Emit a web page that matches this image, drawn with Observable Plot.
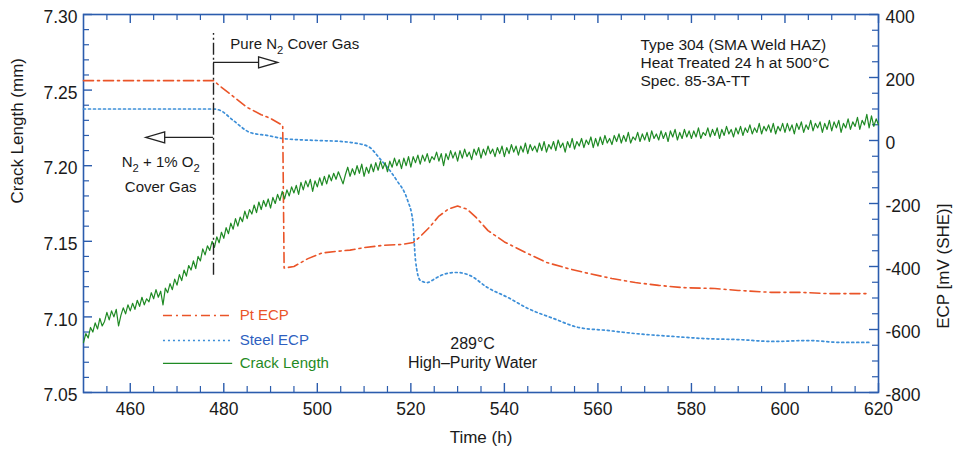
<!DOCTYPE html>
<html>
<head>
<meta charset="utf-8">
<script src="https://cdn.jsdelivr.net/npm/d3@7"></script>
<script src="https://cdn.jsdelivr.net/npm/@observablehq/plot@0.6"></script>
<style>
  html, body { margin: 0; padding: 0; background: #fff; }
  #chart { width: 953px; height: 454px; }
</style>
</head>
<body>
<div id="chart"></div>
<script>
// ---------- data ----------
const crackStart = 450; // samples every 0.5 h from 450 h to 620 h
const crackStep = 0.5;
const crackLength = [
  7.083, 7.089, 7.086, 7.093, 7.090, 7.096, 7.092, 7.099, 7.094, 7.097,
  7.103, 7.098, 7.104, 7.100, 7.105, 7.094, 7.101, 7.106, 7.102, 7.108,
  7.104, 7.109, 7.105, 7.111, 7.107, 7.113, 7.108, 7.112, 7.110, 7.116,
  7.112, 7.118, 7.113, 7.117, 7.108, 7.119, 7.116, 7.122, 7.118, 7.125,
  7.121, 7.128, 7.124, 7.131, 7.127, 7.134, 7.131, 7.137, 7.132, 7.140,
  7.137, 7.145, 7.141, 7.147, 7.144, 7.150, 7.146, 7.153, 7.149, 7.156,
  7.152, 7.159, 7.155, 7.162, 7.158, 7.165, 7.160, 7.166, 7.163, 7.170,
  7.165, 7.171, 7.168, 7.174, 7.169, 7.176, 7.171, 7.177, 7.173, 7.178,
  7.172, 7.179, 7.175, 7.181, 7.177, 7.183, 7.178, 7.184, 7.180, 7.186,
  7.182, 7.187, 7.181, 7.189, 7.184, 7.190, 7.186, 7.191, 7.183, 7.190,
  7.186, 7.192, 7.187, 7.193, 7.188, 7.194, 7.190, 7.195, 7.191, 7.196,
  7.192, 7.188, 7.194, 7.199, 7.193, 7.198, 7.194, 7.200, 7.195, 7.201,
  7.193, 7.199, 7.195, 7.201, 7.196, 7.202, 7.197, 7.203, 7.198, 7.202,
  7.196, 7.203, 7.199, 7.205, 7.200, 7.204, 7.198, 7.205, 7.200, 7.206,
  7.199, 7.206, 7.202, 7.207, 7.201, 7.207, 7.203, 7.208, 7.202, 7.206,
  7.204, 7.209, 7.203, 7.208, 7.200, 7.208, 7.204, 7.210, 7.205, 7.209,
  7.203, 7.210, 7.205, 7.211, 7.206, 7.209, 7.204, 7.211, 7.207, 7.212,
  7.205, 7.211, 7.207, 7.213, 7.208, 7.211, 7.206, 7.212, 7.208, 7.213,
  7.206, 7.212, 7.208, 7.214, 7.209, 7.213, 7.207, 7.213, 7.209, 7.215,
  7.208, 7.214, 7.210, 7.213, 7.209, 7.215, 7.210, 7.216, 7.209, 7.214,
  7.211, 7.216, 7.210, 7.217, 7.212, 7.215, 7.209, 7.216, 7.212, 7.218,
  7.211, 7.216, 7.213, 7.218, 7.212, 7.217, 7.214, 7.219, 7.212, 7.218,
  7.213, 7.219, 7.214, 7.220, 7.215, 7.218, 7.214, 7.220, 7.216, 7.221,
  7.215, 7.220, 7.216, 7.222, 7.215, 7.219, 7.217, 7.222, 7.216, 7.221,
  7.217, 7.222, 7.216, 7.223, 7.218, 7.221, 7.217, 7.223, 7.218, 7.222,
  7.216, 7.223, 7.219, 7.224, 7.217, 7.222, 7.218, 7.224, 7.219, 7.223,
  7.218, 7.223, 7.219, 7.225, 7.218, 7.222, 7.220, 7.225, 7.219, 7.224,
  7.220, 7.225, 7.218, 7.224, 7.220, 7.226, 7.221, 7.224, 7.219, 7.225,
  7.221, 7.226, 7.220, 7.225, 7.222, 7.227, 7.221, 7.225, 7.222, 7.228,
  7.221, 7.226, 7.223, 7.227, 7.222, 7.228, 7.221, 7.226, 7.223, 7.228,
  7.222, 7.228, 7.223, 7.227, 7.221, 7.228, 7.224, 7.229, 7.222, 7.227,
  7.224, 7.230, 7.223, 7.228, 7.225, 7.229, 7.222, 7.228, 7.224, 7.230,
  7.223, 7.229, 7.225, 7.230, 7.222, 7.228, 7.225, 7.231, 7.224, 7.229,
  7.226, 7.232, 7.224, 7.230, 7.227, 7.234, 7.225, 7.233, 7.226, 7.231,
  7.227
];

const ptTime = [450, 460, 470, 477.8, 479, 482, 485, 488, 490, 492.6, 492.9, 495, 498, 501, 504, 507, 510, 514, 518, 520.5, 522, 524, 526, 528, 530, 532, 534, 536.5, 540, 545, 549, 553.5, 558, 563, 568, 573, 578, 585, 590, 597, 603, 609, 614, 618];
const ptECP  = [190, 190, 190, 190, 175, 140, 105, 82, 70, 48, -405, -400, -375, -357, -352, -348, -340, -333, -330, -324, -305, -275, -240, -218, -208, -218, -245, -286, -322, -359, -387, -406, -422, -438, -451, -460, -467, -470, -476, -482, -482, -486, -486, -486];

const steelTime = [450, 460, 470, 477.8, 479.3, 482, 485.7, 489.3, 492.8, 500, 505, 508, 511, 513.5, 515.5, 517, 519.3, 520.4, 521, 522, 523.5, 525, 526.5, 528.5, 530, 532.7, 536.4, 540.7, 545, 550.5, 556, 562, 568, 576, 583, 590, 597.5, 605, 612, 618];
const steelECP  = [100, 100, 100, 100, 95, 64, 25, 16, 6, 0, -3, -8, -20, -60, -95, -127, -190, -254, -381, -444, -451, -440, -428, -420, -419, -429, -467, -498, -533, -565, -594, -603, -613, -622, -629, -632, -638, -635, -641, -641];

const xMajor = [460, 480, 500, 520, 540, 560, 580, 600, 620];
const xMinor = [455, 465, 470, 475, 485, 490, 495, 505, 510, 515, 525, 530, 535, 545, 550, 555, 565, 570, 575, 585, 590, 595, 605, 610, 615];
const yMajor = [7.05, 7.10, 7.15, 7.20, 7.25, 7.30];
const yMinor = [7.06, 7.07, 7.08, 7.09, 7.11, 7.12, 7.13, 7.14, 7.16, 7.17, 7.18, 7.19, 7.21, 7.22, 7.23, 7.24, 7.26, 7.27, 7.28, 7.29];
const ecpMajor = [-800, -600, -400, -200, 0, 200, 400];
const ecpMinor = [-750, -700, -650, -550, -500, -450, -350, -300, -250, -150, -100, -50, 50, 100, 150, 250, 300, 350];

const gasChangeTime = 477.8;

// ---------- helpers ----------
const ecpDomain = [-800, 400];
const mmDomain = [7.05, 7.30];
const toMM = v => mmDomain[0] + (v - ecpDomain[0]) / (ecpDomain[1] - ecpDomain[0]) * (mmDomain[1] - mmDomain[0]);

const crackData = crackLength.map((v, i) => ({t: crackStart + i * crackStep, v}));
const ptData = ptTime.map((t, i) => ({t, v: toMM(ptECP[i])}));
const steelData = steelTime.map((t, i) => ({t, v: toMM(steelECP[i])}));

const width = 953, height = 454;
const mL = 83, mR = 75, mT = 14, mB = 62;
const W = width - mL - mR, H = height - mT - mB;

const frameColor = "#2b5cad";
const ptColor = "#ea5428";
const steelColor = "#3d8fd8";
const crackColor = "#1f8a24";
const textColor = "#1a1a1a";
const font = "'Liberation Sans', Arial, Helvetica, sans-serif";

// custom open arrowhead symbol, tip at origin, pointing right
const arrowHead = {
  draw(ctx) {
    ctx.moveTo(0, 0);
    ctx.lineTo(-19, -5.5);
    ctx.lineTo(-19, 5.5);
    ctx.closePath();
  }
};

const legend = [
  {label: "Pt ECP", y: 7.1009, color: ptColor, textColor: ptColor, dash: "9,4,2,4", sw: 1.5},
  {label: "Steel ECP", y: 7.0844, color: steelColor, textColor: "#2e5fc0", dash: "2,3", sw: 1.6},
  {label: "Crack Length", y: 7.0692, color: crackColor, textColor: crackColor, dash: null, sw: 1.3}
];

const marks = [
  Plot.frame({stroke: frameColor, strokeWidth: 1.6}),
  // ticks (inward)
  Plot.tickY(yMajor, {y: d => d, insetRight: W - 9, stroke: frameColor, strokeWidth: 1.4}),
  Plot.tickY(yMinor, {y: d => d, insetRight: W - 6, stroke: frameColor, strokeWidth: 1.2}),
  Plot.tickY(ecpMajor, {y: d => toMM(d), insetLeft: W - 9, stroke: frameColor, strokeWidth: 1.4}),
  Plot.tickY(ecpMinor, {y: d => toMM(d), insetLeft: W - 6, stroke: frameColor, strokeWidth: 1.2}),
  Plot.tickX(xMajor, {x: d => d, insetTop: H - 9, stroke: frameColor, strokeWidth: 1.4}),
  Plot.tickX(xMinor, {x: d => d, insetTop: H - 6, stroke: frameColor, strokeWidth: 1.2}),
  Plot.tickX(xMajor, {x: d => d, insetBottom: H - 9, stroke: frameColor, strokeWidth: 1.4}),
  Plot.tickX(xMinor, {x: d => d, insetBottom: H - 6, stroke: frameColor, strokeWidth: 1.2}),
  // tick labels
  Plot.text(yMajor, {y: d => d, text: d => d.toFixed(2), frameAnchor: "left", textAnchor: "end", dx: -6, dy: 3, fontSize: 17.5, fill: textColor}),
  Plot.text(ecpMajor, {y: d => toMM(d), text: d => String(d), frameAnchor: "right", textAnchor: "start", dx: 7, dy: 3, fontSize: 17.5, fill: textColor}),
  Plot.text(xMajor, {x: d => d, text: d => String(d), frameAnchor: "bottom", dy: 22, fontSize: 17.5, fill: textColor}),
  // axis titles
  Plot.text(["Crack Length (mm)"], {frameAnchor: "left", rotate: -90, dx: -66, fontSize: 17, fill: textColor}),
  Plot.text(["ECP [mV (SHE)]"], {frameAnchor: "right", rotate: -90, dx: 65, fontSize: 17, fill: textColor}),
  Plot.text(["Time (h)"], {frameAnchor: "bottom", dy: 50, fontSize: 17, fill: textColor}),
  // data series
  Plot.line(steelData, {x: "t", y: "v", stroke: steelColor, strokeWidth: 1.7, strokeDasharray: "2,3", curve: "monotone-x"}),
  Plot.line(ptData, {x: "t", y: "v", stroke: ptColor, strokeWidth: 1.6, strokeDasharray: "10,4,2,4"}),
  Plot.line(crackData, {x: "t", y: "v", stroke: crackColor, strokeWidth: 1.2}),
  // gas change marker
  Plot.ruleX([gasChangeTime], {y1: 7.1275, y2: 7.2875, stroke: "#222", strokeWidth: 1.4, strokeDasharray: "12,3,2,3"}),
  Plot.ruleY([7.2683], {x1: gasChangeTime, x2: 488, stroke: "#222", strokeWidth: 1.3}),
  Plot.dot([491.5], {x: d => d, y: 7.2683, symbol: arrowHead, fill: "white", stroke: "#222", strokeWidth: 1.3}),
  Plot.ruleY([7.2187], {x1: 466.8, x2: gasChangeTime, stroke: "#222", strokeWidth: 1.3}),
  Plot.dot([463.3], {x: d => d, y: 7.2187, symbol: arrowHead, rotate: 180, fill: "white", stroke: "#222", strokeWidth: 1.3}),
  // annotations
  Plot.text(["Pure N₂ Cover Gas"], {x: 481.4, y: 7.2802, textAnchor: "start", fontSize: 15, fill: textColor}),
  Plot.text(["N₂ + 1% O₂"], {x: 466.5, y: 7.2025, fontSize: 15, fill: textColor}),
  Plot.text(["Cover Gas"], {x: 466.5, y: 7.1856, fontSize: 15, fill: textColor}),
  Plot.text(["Type 304 (SMA Weld HAZ)"], {x: 569.1, y: 7.2795, textAnchor: "start", fontSize: 15.5, fill: textColor}),
  Plot.text(["Heat Treated 24 h at 500°C"], {x: 569.1, y: 7.2676, textAnchor: "start", fontSize: 15.5, fill: textColor}),
  Plot.text(["Spec. 85-3A-TT"], {x: 569.1, y: 7.2557, textAnchor: "start", fontSize: 15.5, fill: textColor}),
  Plot.text(["289°C"], {x: 533.2, y: 7.0824, fontSize: 16, fill: textColor}),
  Plot.text(["High–Purity Water"], {x: 533.2, y: 7.0698, fontSize: 16, fill: textColor})
];

// legend
for (const item of legend) {
  marks.push(Plot.ruleY([item.y], {x1: 467.1, x2: 481.9, stroke: item.color, strokeWidth: item.sw, strokeDasharray: item.dash}));
  marks.push(Plot.text([item.label], {x: 483.4, y: item.y, textAnchor: "start", fontSize: 15, fill: item.textColor}));
}

const svg = Plot.plot({
  width, height,
  marginLeft: mL, marginRight: mR, marginTop: mT, marginBottom: mB,
  x: {domain: [450, 620], axis: null},
  y: {domain: mmDomain, axis: null},
  style: {fontFamily: font, background: "white", overflow: "visible"},
  marks
});

// subscripts: replace ₂ with a lowered, smaller "2"
const ns = "http://www.w3.org/2000/svg";
svg.querySelectorAll("text").forEach(t => {
  if (!t.textContent.includes("₂")) return;
  const parts = t.textContent.split("₂");
  t.textContent = "";
  parts.forEach((p, i) => {
    if (i === 0) { t.appendChild(document.createTextNode(p)); return; }
    const s = document.createElementNS(ns, "tspan");
    s.setAttribute("dy", "5");
    s.setAttribute("font-size", "0.75em");
    s.textContent = "2";
    t.appendChild(s);
    if (p.length) {
      const r = document.createElementNS(ns, "tspan");
      r.setAttribute("dy", "-5");
      r.textContent = p;
      t.appendChild(r);
    }
  });
});

document.getElementById("chart").appendChild(svg);
</script>
</body>
</html>
